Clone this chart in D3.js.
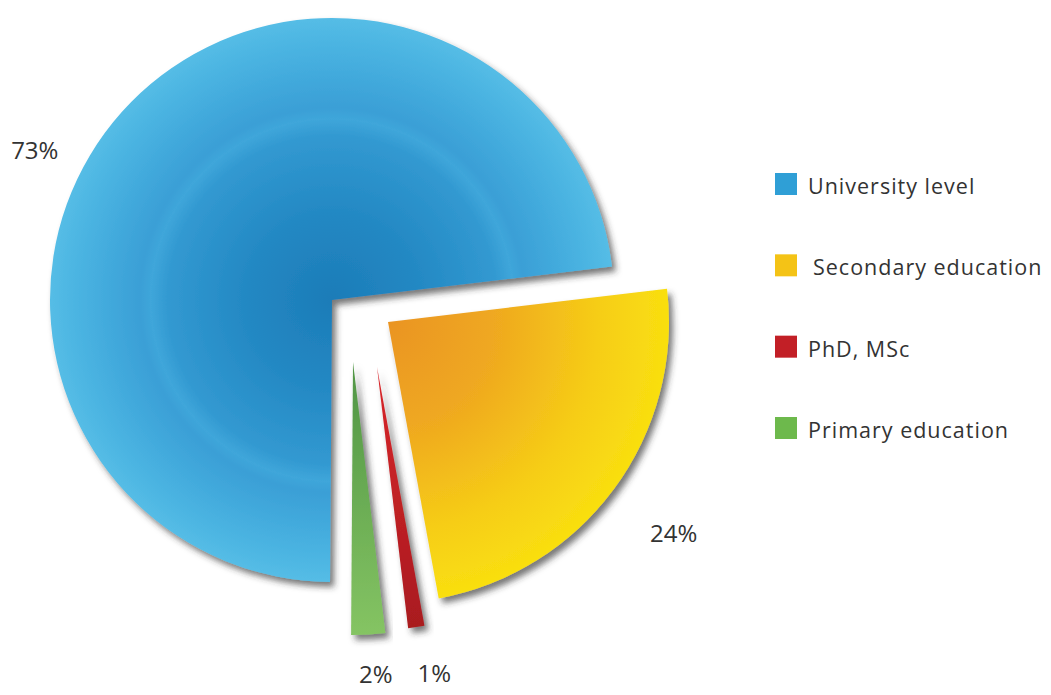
<!DOCTYPE html>
<html>
<head>
    <style>
        body {
            background-color: #ffffff;
            margin: 0;
            padding: 0;
        }

        .pct-label {
            font-family: "Open Sans", "DejaVu Sans", sans-serif;
            font-size: 24px;
            fill: #333;
        }

        .legend-text {
            font-family: "Open Sans", "DejaVu Sans", sans-serif;
            font-size: 21.5px;
            letter-spacing: 1px;
            fill: #333;
        }
    </style>
</head>
<body>
    <div id="pie-chart"></div>
    <script src="https://cdnjs.cloudflare.com/ajax/libs/d3/7.8.5/d3.min.js"></script>
    <script>
        // Data, in drawing order (clockwise from the right edge)
        const categories = ["Secondary education", "PhD, MSc", "Primary education", "University level"];
        const values = [24, 1, 2, 73];
        const valueLabels = ["24%", "1%", "2%", "73%"];
        const legendOrder = ["University level", "Secondary education", "PhD, MSc", "Primary education"];

        const width = 1051;
        const height = 695;
        const center = { x: 332, y: 300 };
        const startDeg = 83.2;

        // exploded offsets and radii per slice (layout only)
        const sliceLayout = {
            "University level":    { dx: 0,  dy: 0,  r: 282, labelR: 333, labelShift: -15 },
            "Secondary education": { dx: 56, dy: 22, r: 281, labelR: 355, labelShift: 0 },
            "PhD, MSc":            { dx: 45, dy: 67, r: 263, labelR: 311, labelShift: -2 },
            "Primary education":   { dx: 21, dy: 62, r: 273, labelR: 312, labelShift: -1 }
        };

        const legendColors = {
            "University level": "#2f9fd6",
            "Secondary education": "#f4c316",
            "PhD, MSc": "#c21f26",
            "Primary education": "#6db94c"
        };

        const svg = d3.select("#pie-chart")
            .append("svg")
            .attr("width", width)
            .attr("height", height);

        const defs = svg.append("defs");

        const shadow = defs.append("filter")
            .attr("id", "shadow")
            .attr("x", "-10%").attr("y", "-10%")
            .attr("width", "130%").attr("height", "130%");
        shadow.append("feDropShadow")
            .attr("dx", 4).attr("dy", 5)
            .attr("stdDeviation", 3)
            .attr("flood-color", "#333")
            .attr("flood-opacity", 0.65);

        // blue radial gradient, darker toward the corner
        const blueGrad = defs.append("radialGradient")
            .attr("id", "grad-blue")
            .attr("gradientUnits", "userSpaceOnUse")
            .attr("cx", 0).attr("cy", 0).attr("r", 283);
        [[0, "#1c7cb8"], [0.3, "#2388c3"], [0.58, "#3299d1"], [0.64, "#3fa6da"],
         [0.68, "#3a9fd6"], [0.85, "#46afdf"], [1, "#55bde6"]].forEach(s => {
            blueGrad.append("stop").attr("offset", s[0]).attr("stop-color", s[1]);
        });

        const yellowGrad = defs.append("radialGradient")
            .attr("id", "grad-yellow")
            .attr("gradientUnits", "userSpaceOnUse")
            .attr("cx", 0).attr("cy", 0).attr("r", 300);
        [[0, "#ea9424"], [0.35, "#efa820"], [0.7, "#f6cd17"], [1, "#fae40e"]].forEach(s => {
            yellowGrad.append("stop").attr("offset", s[0]).attr("stop-color", s[1]);
        });

        const redGrad = defs.append("linearGradient")
            .attr("id", "grad-red")
            .attr("x1", 0).attr("y1", 0).attr("x2", 0).attr("y2", 1);
        redGrad.append("stop").attr("offset", 0).attr("stop-color", "#d8262a");
        redGrad.append("stop").attr("offset", 1).attr("stop-color", "#a91b1f");

        const greenGrad = defs.append("linearGradient")
            .attr("id", "grad-green")
            .attr("x1", 0).attr("y1", 0).attr("x2", 0).attr("y2", 1);
        greenGrad.append("stop").attr("offset", 0).attr("stop-color", "#4f9444");
        greenGrad.append("stop").attr("offset", 1).attr("stop-color", "#85c463");

        const fills = {
            "University level": "url(#grad-blue)",
            "Secondary education": "url(#grad-yellow)",
            "PhD, MSc": "url(#grad-red)",
            "Primary education": "url(#grad-green)"
        };

        const data = categories.map((c, i) => ({ name: c, value: values[i], label: valueLabels[i] }));

        const startAngle = startDeg * Math.PI / 180;
        const pie = d3.pie()
            .sort(null)
            .value(d => d.value)
            .startAngle(startAngle)
            .endAngle(startAngle + 2 * Math.PI);

        const arcs = pie(data);

        const slices = svg.append("g")
            .selectAll("g")
            .data(arcs)
            .enter()
            .append("g")
            .attr("transform", d => {
                const l = sliceLayout[d.data.name];
                return `translate(${center.x + l.dx},${center.y + l.dy})`;
            });

        slices.append("path")
            .attr("d", d => d3.arc().innerRadius(0).outerRadius(sliceLayout[d.data.name].r)(d))
            .attr("fill", d => fills[d.data.name])
            .attr("filter", "url(#shadow)");

        // percentage labels
        slices.append("text")
            .attr("class", "pct-label")
            .attr("text-anchor", "middle")
            .attr("dominant-baseline", "central")
            .attr("transform", d => {
                const l = sliceLayout[d.data.name];
                const a = (d.startAngle + d.endAngle) / 2 + l.labelShift * Math.PI / 180;
                return `translate(${Math.sin(a) * l.labelR},${-Math.cos(a) * l.labelR})`;
            })
            .text(d => d.data.label);

        // legend
        const legendY = d3.scalePoint()
            .domain(legendOrder)
            .range([173, 417]);

        const legend = svg.append("g")
            .attr("transform", "translate(775,0)");

        const items = legend.selectAll("g")
            .data(legendOrder)
            .enter()
            .append("g")
            .attr("transform", d => `translate(0,${legendY(d)})`);

        items.append("rect")
            .attr("width", 22)
            .attr("height", 22)
            .attr("fill", d => legendColors[d]);

        items.append("text")
            .attr("class", "legend-text")
            .attr("x", d => d === "Secondary education" ? 38 : 33)
            .attr("y", 21)
            .text(d => d);
    </script>
</body>
</html>
